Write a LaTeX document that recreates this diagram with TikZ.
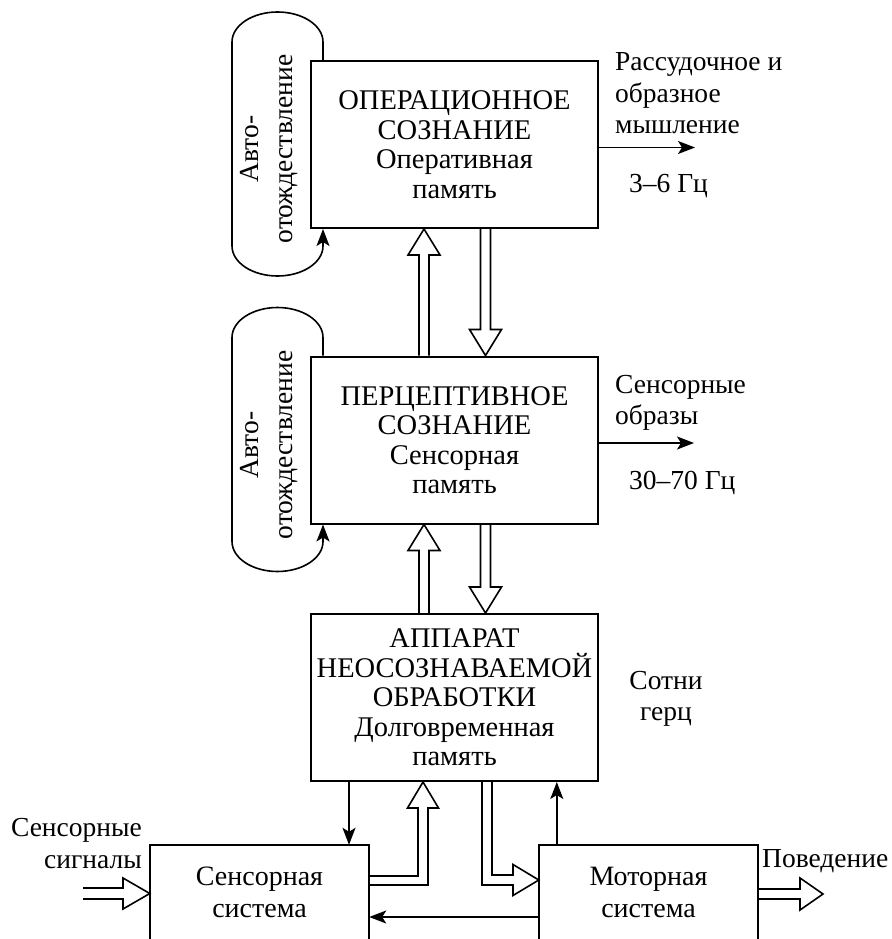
\documentclass[tikz,border=0pt]{standalone}
\usepackage{fontspec}
\setmainfont{Liberation Serif}
\usetikzlibrary{arrows.meta,calc}
\newcommand\hup[3]{\draw[hol] ($(#1)+(#3-5,0)$) -- ($(#2)+(#3-5,26)$) -- ($(#2)+(#3-16,26)$) -- ($(#2)+(#3,0)$) -- ($(#2)+(#3+16,26)$) -- ($(#2)+(#3+5,26)$) -- ($(#1)+(#3+5,0)$);}
\newcommand\hdown[3]{\draw[hol] ($(#1)+(#3-5,0)$) -- ($(#2)+(#3-5,-26)$) -- ($(#2)+(#3-16,-26)$) -- ($(#2)+(#3,0)$) -- ($(#2)+(#3+16,-26)$) -- ($(#2)+(#3+5,-26)$) -- ($(#1)+(#3+5,0)$);}
\newcommand\pillpath[1]{%
 \draw[tarrow]
 ($(#1.north west)+(13,0)$) -- ($(#1.north west)+(13,-18)$)
 .. controls ($(#1.north west)+(13,-34.6)$) and ($(#1.north west)+(-7.4,-48)$) .. ($(#1.north west)+(-32.5,-48)$)
 .. controls ($(#1.north west)+(-57.6,-48)$) and ($(#1.north west)+(-78,-34.6)$) .. ($(#1.north west)+(-78,-18)$)
 -- ($(#1.south west)+(-78,17)$)
 .. controls ($(#1.south west)+(-78,33.6)$) and ($(#1.south west)+(-57.6,47)$) .. ($(#1.south west)+(-32.5,47)$)
 .. controls ($(#1.south west)+(-7.4,47)$) and ($(#1.south west)+(13,33.6)$) .. ($(#1.south west)+(13,17)$)
 -- ($(#1.south west)+(13,0)$);}
\begin{document}
\begin{tikzpicture}[x=1pt,y=-1pt,
 lab/.style={font=\fontsize{27.5}{31.5}\selectfont, inner sep=0pt},
 blk/.style={draw, line width=2pt, minimum width=287pt, minimum height=167pt, align=center, inner sep=0pt, font=\fontsize{28.5}{29.5}\selectfont},
 sys/.style={minimum width=219pt, minimum height=94pt, align=center, inner sep=0pt, font=\fontsize{28}{32}\selectfont},
 hol/.style={line width=1.6pt, miter limit=20},
 tarrow/.style={line width=1.6pt, -{Stealth[length=17pt,width=13pt,inset=4pt]}},
 pilltext/.style={rotate=90, align=center, inner sep=0pt, font=\fontsize{27.5}{34}\selectfont}
]
\useasboundingbox (0,0) rectangle (891,939);

% main blocks
\node[blk] (op) at (454.5,144.5) {ОПЕРАЦИОННОЕ\\СОЗНАНИЕ\\Оперативная\\память};
\node[blk] (pe) at (454.5,440) {ПЕРЦЕПТИВНОЕ\\СОЗНАНИЕ\\Сенсорная\\память};
\node[blk] (ap) at (454.5,697.5) {АППАРАТ\\НЕОСОЗНАВАЕМОЙ\\ОБРАБОТКИ\\Долговременная\\память};

% bottom systems (cut at the lower edge)
\node[sys] (sens) at (259.5,892) {Сенсорная\\система};
\node[sys] (mot) at (648.5,892) {Моторная\\система};
\draw[line width=2pt] (sens.south west) -- (sens.north west) -- (sens.north east) -- (sens.south east);
\draw[line width=2pt] (mot.south west) -- (mot.north west) -- (mot.north east) -- (mot.south east);

% auto-identification loops
\pillpath{op}
\pillpath{pe}
\node[pilltext] (pt1) at (269,149) {Авто-\\отождествление};
\node[pilltext] (pt2) at (269,445) {Авто-\\отождествление};

% right labels
\node[lab, anchor=north west, align=left] (r1) at (615,52.5) {Рассудочное и\\образное\\мышление};
\node[lab, anchor=base west] (f1) at (629,192) {3–6 Гц};
\node[lab, anchor=north west, align=left] (r2) at (615,375) {Сенсорные\\образы};
\node[lab, anchor=base west] (f2) at (629,489) {30–70 Гц};
\node[lab, anchor=north, align=center] (f3) at (666,671) {Сотни\\герц};
\node[lab, anchor=north east, align=right] (sin) at (142,818.5) {Сенсорные\\сигналы};
\node[lab, anchor=base west] (beh) at (762,867) {Поведение};

\draw[tarrow] ($(op.east)+(0,3)$) -- ++(96,0);
\draw[tarrow] ($(pe.east)+(0,3)$) -- ++(95,0);

% hollow vertical arrows
\hup{pe.north}{op.south}{-30.5}
\hdown{op.south}{pe.north}{31}
\hup{ap.north}{pe.south}{-30.5}
\hdown{pe.south}{ap.north}{31}

% sensory system -> apparatus
\draw[hol] ($(sens.east)+(0,-7)$) -- (428,885) -- (428,808) -- (438.5,808) -- ($(ap.south)+(-31.5,0)$)
 -- (407.5,808) -- (418,808) -- (418,876) -- ($(sens.east)+(0,-16)$);
% apparatus -> motor system
\draw[hol] ($(ap.south)+(27.5,0)$) -- (482,885) -- (513,885) -- (513,895.5) -- ($(mot.west)+(0,-12)$)
 -- (513,864.5) -- (513,875) -- (492,875) -- ($(ap.south)+(37.5,0)$);
% input sensory signals
\draw[hol] (83,888) -- (123,888) -- (123,878) -- ($(sens.west)+(0,1.5)$) -- (123,909) -- (123,899) -- (83,899);
% behaviour output
\draw[hol] ($(mot.east)+(0,-3)$) -- (800,889) -- (800,878) -- (823,894) -- (800,910) -- (800,899) -- ($(mot.east)+(0,7)$);

% thin arrows
\coordinate (c1) at ($(ap.south)+(-105.5,0)$);
\draw[tarrow] (c1) -- (c1 |- sens.north);
\coordinate (c2) at ($(mot.north west)+(18,0)$);
\draw[tarrow] (c2) -- (c2 |- ap.south);
\coordinate (c3) at ($(mot.west)+(0,25)$);
\draw[tarrow] (c3) -- (c3 -| sens.east);
\end{tikzpicture}
\end{document}
